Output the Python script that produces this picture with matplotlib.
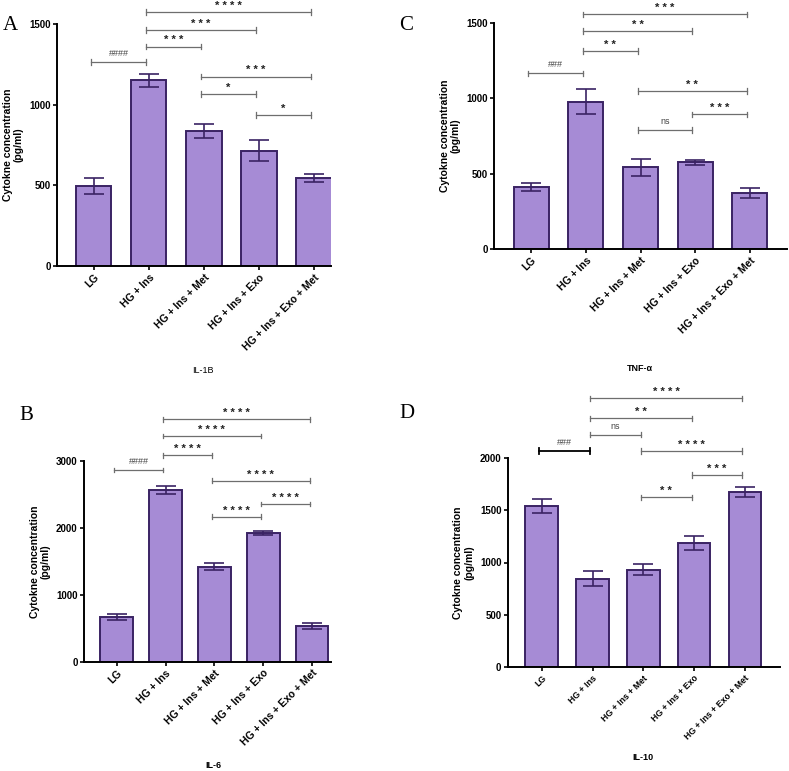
import matplotlib
matplotlib.use("Agg")
import matplotlib.pyplot as plt
import numpy as np

groups = ["LG", "HG + Ins", "HG + Ins + Met", "HG + Ins + Exo", "HG + Ins + Exo + Met"]

il1b_mean = [497, 1150, 839, 715, 543]
il1b_err = [48, 38, 43, 65, 25]
tnf_mean = [413, 976, 541, 574, 369]
tnf_err = [26, 82, 55, 18, 33]
il6_mean = [668, 2566, 1420, 1928, 529]
il6_err = [48, 65, 50, 30, 45]
il10_mean = [1539, 846, 931, 1186, 1673]
il10_err = [70, 73, 52, 64, 50]

# brackets: (start group, end group, y value, label)
il1b_br = [(0, 1, 1265, "####"), (1, 2, 1360, "* * *"), (1, 3, 1463, "* * *"),
           (1, 4, 1573, "* * * *"), (2, 4, 1174, "* * *"), (2, 3, 1065, "*"),
           (3, 4, 938, "*")]
tnf_br = [(0, 1, 1164, "###"), (1, 2, 1312, "* *"), (1, 3, 1445, "* *"),
          (1, 4, 1555, "* * *"), (2, 4, 1048, "* *"), (3, 4, 893, "* * *"),
          (2, 3, 789, "ns")]
il6_br = [(0, 1, 2865, "####"), (1, 2, 3085, "* * * *"), (1, 3, 3373, "* * * *"),
          (1, 4, 3623, "* * * *"), (2, 4, 2706, "* * * *"), (3, 4, 2357, "* * * *"),
          (2, 3, 2167, "* * * *")]
il10_br = [(0, 1, 2064, "###"), (1, 2, 2217, "ns"), (1, 3, 2376, "* *"),
           (1, 4, 2567, "* * * *"), (2, 4, 2064, "* * * *"), (3, 4, 1835, "* * *"),
           (2, 3, 1622, "* *")]

BAR = "#a68bd5"
EDGE = "#3a2363"
GRAY = "#6e6e6e"
SANS = "Liberation Sans"
SERIF = "Liberation Serif"

fig = plt.figure(figsize=(7.89, 7.71), dpi=100)
W, H = 789.0, 771.0

def make_ax(x0, y0, x1, ybottom):
    return fig.add_axes([x0 / W, 1 - ybottom / H, (x1 - x0) / W, (ybottom - y0) / H])

def panel(ax, means, errs, brs, ymax, yticks, xlim, bw, title, tbold, tpos,
          letter, lpos, xfs=7.5, black_first=False):
    x = np.arange(len(groups))
    ax.bar(x, means, width=bw, color=BAR, edgecolor=EDGE, linewidth=1.4, zorder=2)
    ax.errorbar(x, means, yerr=errs, fmt="none", ecolor=EDGE, elinewidth=1.2,
                capsize=7, capthick=1.2, zorder=3)
    ax.set_xlim(*xlim)
    ax.set_ylim(0, ymax)
    ax.set_yticks(yticks)
    ax.set_yticklabels([str(t) for t in yticks], fontsize=7, fontweight="bold",
                       family=SANS)
    ax.set_xticks(x)
    ax.set_xticklabels(groups, rotation=45, ha="right", rotation_mode="anchor",
                       fontsize=xfs, fontweight="bold", family=SANS)
    for s in ["top", "right"]:
        ax.spines[s].set_visible(False)
    for s in ["left", "bottom"]:
        ax.spines[s].set_linewidth(1.4)
        ax.spines[s].set_color("black")
    ax.tick_params(axis="both", length=3, width=1.2, pad=1.5)
    ax.set_ylabel("Cytokne concentration\n(pg/ml)", fontsize=7.5, fontweight="bold",
                  family=SANS, labelpad=4, linespacing=1.1)
    tick_h = ymax * 0.012
    for i, (a, b, y, lab) in enumerate(brs):
        col = "black" if (black_first and i == 0) else GRAY
        lw = 1.3 if (black_first and i == 0) else 0.9
        xa, xb = a - 0.05, b - 0.05
        ax.plot([xa, xb], [y, y], color=col, lw=lw, clip_on=False, zorder=4)
        for xx in (xa, xb):
            ax.plot([xx, xx], [y - tick_h, y + tick_h], color=col, lw=lw,
                    clip_on=False, zorder=4)
        if lab.startswith("#") or lab == "ns":
            ax.text((xa + xb) / 2, y + ymax * 0.018, lab, ha="center", va="bottom",
                    fontsize=6.5, color="#444444", family=SANS, clip_on=False)
        else:
            ax.text((xa + xb) / 2, y + ymax * 0.005, lab, ha="center", va="bottom",
                    fontsize=8, color="#222222", family=SANS, fontweight="bold",
                    clip_on=False)
    fig.text(tpos[0] / W, 1 - tpos[1] / H, title, ha="center", va="center",
             fontsize=6.5, fontweight="bold" if tbold else "normal", family=SANS)
    fig.text(lpos[0] / W, 1 - lpos[1] / H, letter, ha="left", va="center",
             fontsize=15, family=SERIF)

axA = make_ax(57, 24, 331, 266)
panel(axA, il1b_mean, il1b_err, il1b_br, 1500, [0, 500, 1000, 1500],
      (-0.67, 4.31), 0.64, "IL-1B", False, (203, 370), "A", (3, 25))

axC = make_ax(494, 22.7, 787, 249)
panel(axC, tnf_mean, tnf_err, tnf_br, 1500, [0, 500, 1000, 1500],
      (-0.68, 4.68), 0.64, "TNF-\u03b1", True, (640, 368), "C", (399, 25))

axB = make_ax(84, 461, 331, 661.7)
panel(axB, il6_mean, il6_err, il6_br, 3000, [0, 1000, 2000, 3000],
      (-0.67, 4.39), 0.67, "IL-6", True, (213, 766), "B", (19, 415))

axD = make_ax(507.7, 457.7, 780, 667.3)
panel(axD, il10_mean, il10_err, il10_br, 2000, [0, 500, 1000, 1500, 2000],
      (-0.67, 4.69), 0.64, "IL-10", True, (643, 757), "D", (399, 413),
      xfs=6.3, black_first=True)

fig.savefig("out.png", dpi=100)
